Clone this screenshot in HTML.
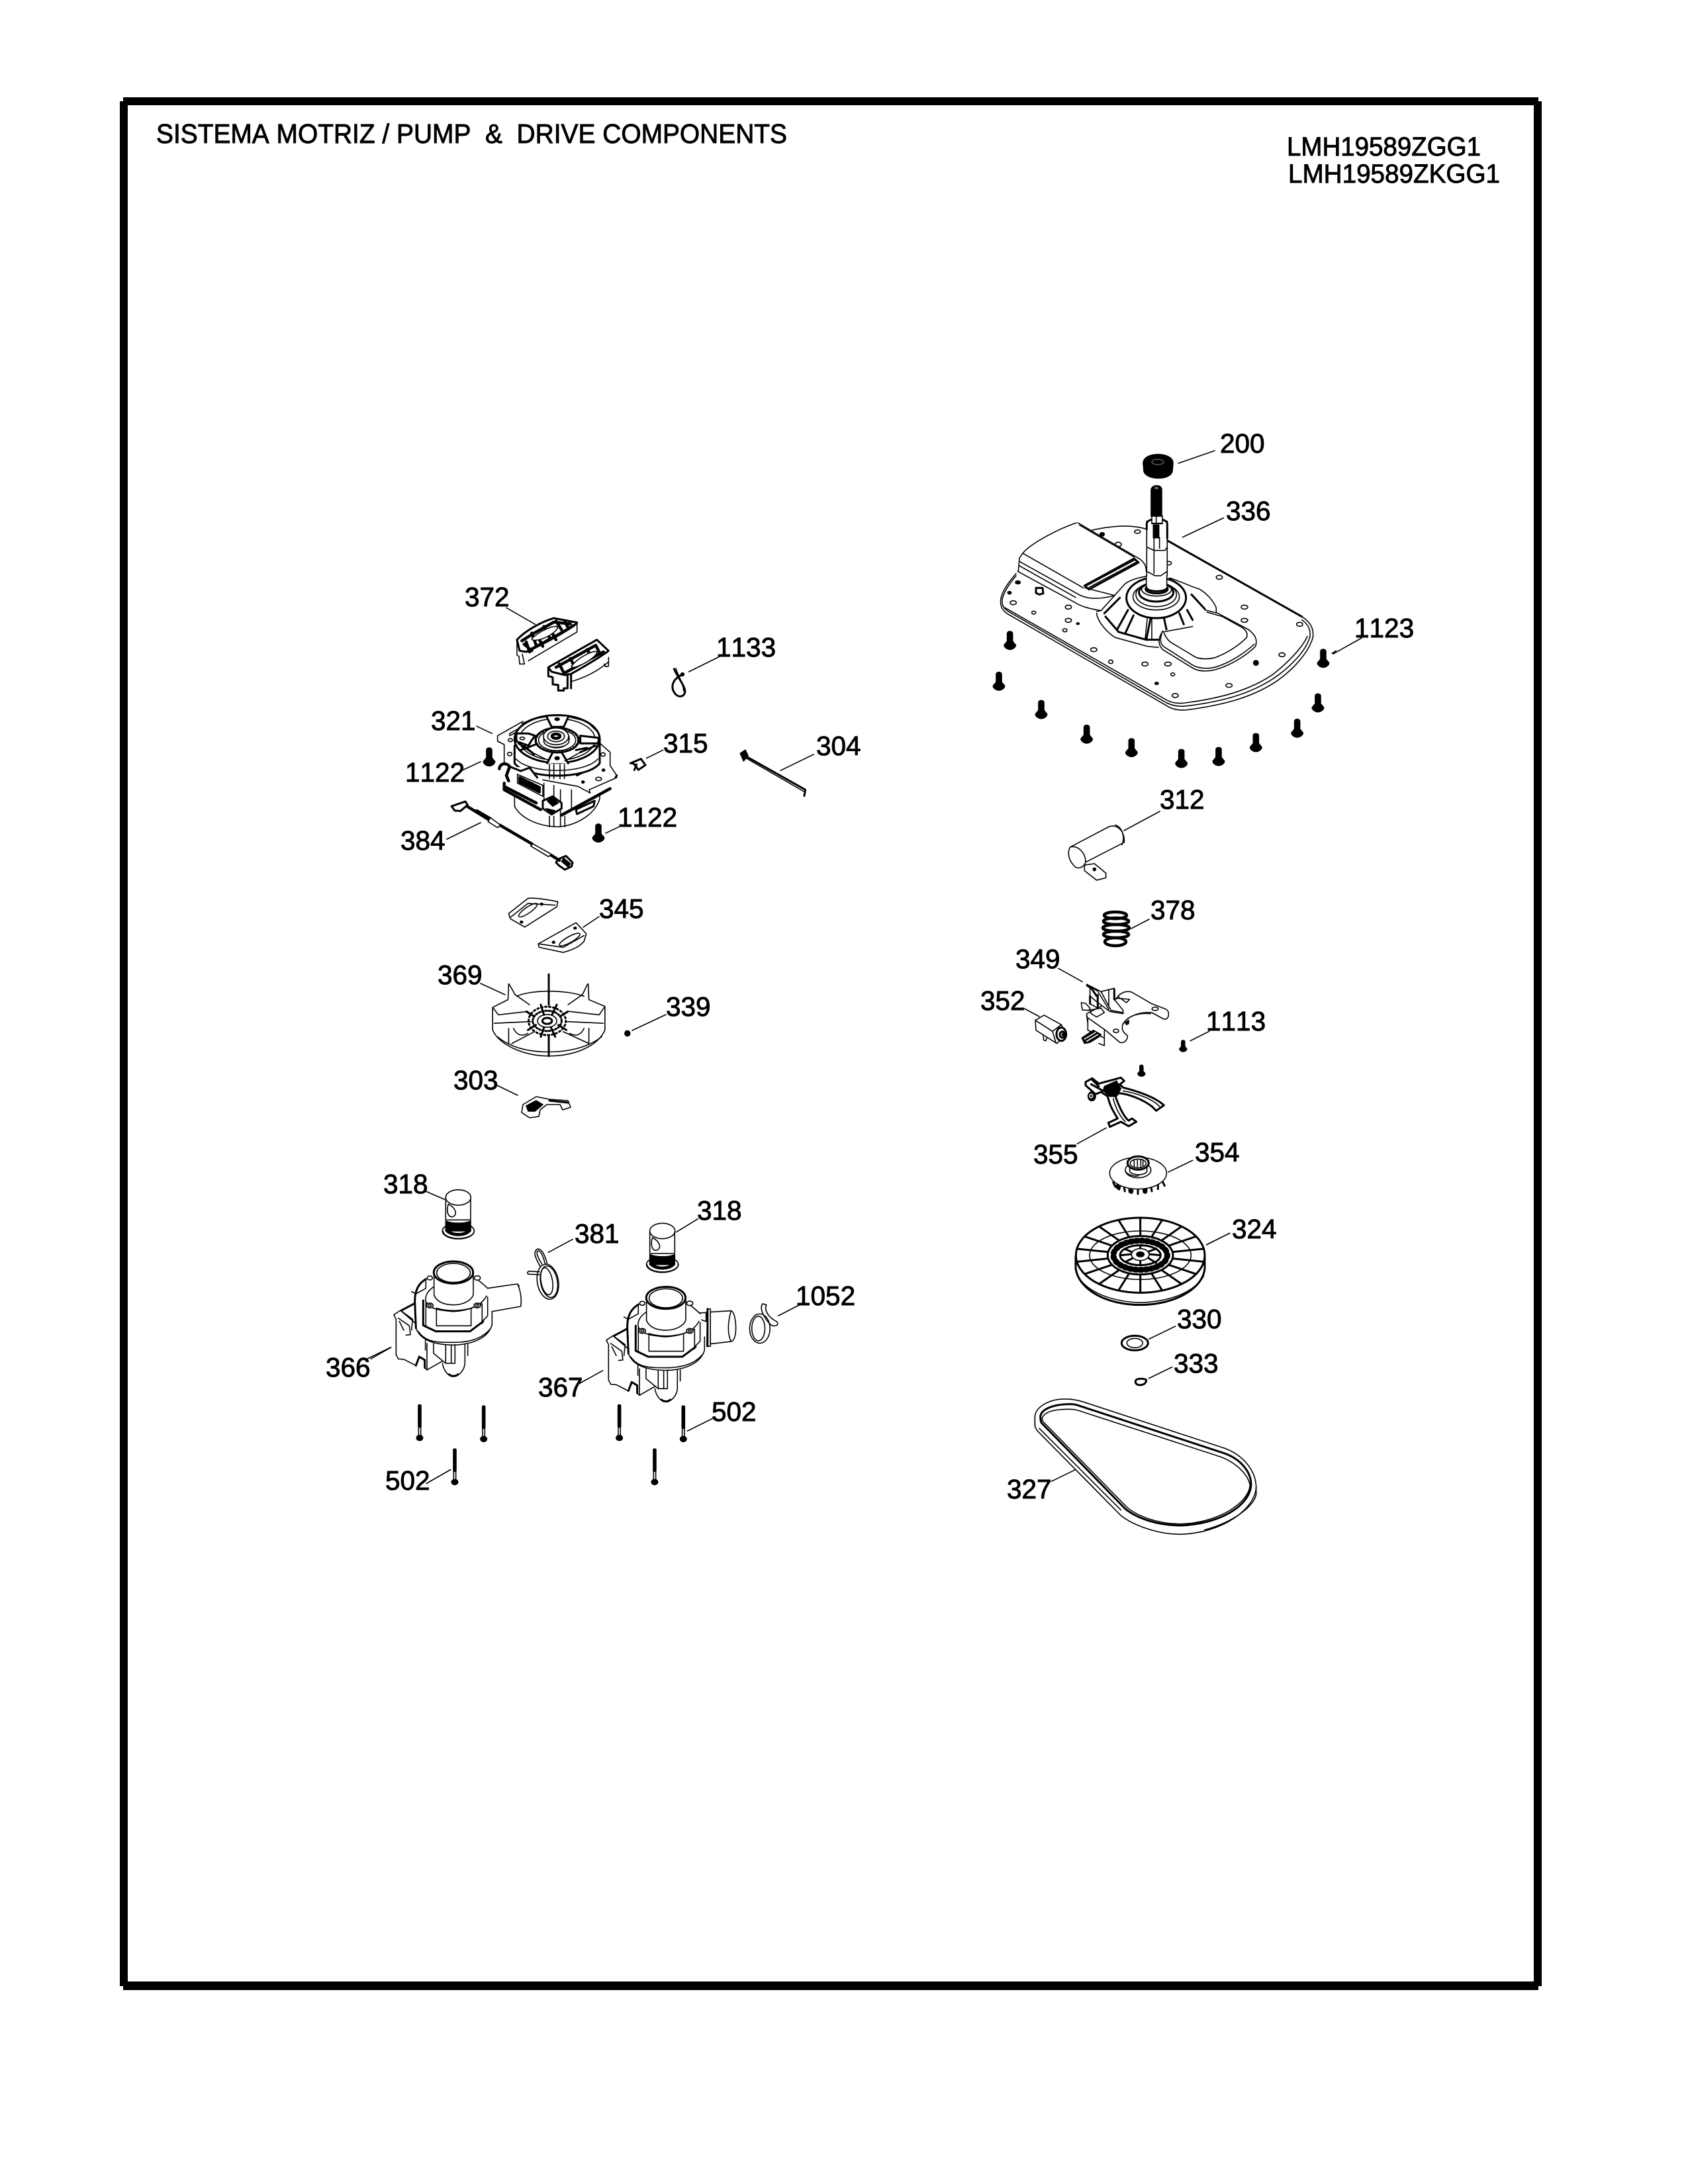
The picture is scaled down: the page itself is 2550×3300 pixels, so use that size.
<!DOCTYPE html>
<html><head><meta charset="utf-8"><title>Pump & Drive Components</title>
<style>
html,body{margin:0;padding:0;background:#fff}
svg{display:block}
path,line,ellipse,rect,polygon,polyline{vector-effect:non-scaling-stroke}
.p{fill:none;stroke:#000;stroke-width:1.6;stroke-linejoin:round;stroke-linecap:round}
.w{fill:#fff}.k{fill:#000}.b{stroke-width:3}.c{stroke-width:4.5}.t{stroke-width:1.2}
.f{fill:#fff;stroke:none}
text{font-family:"Liberation Sans",Arial,sans-serif;fill:#000;stroke:#000;stroke-width:.9;font-kerning:none}
.l{font-size:40.5px}
</style></head><body>
<svg width="2550" height="3300" viewBox="0 0 2550 3300" xmlns="http://www.w3.org/2000/svg">
<rect width="2550" height="3300" fill="#fff"/>
<!-- frame -->
<rect x="186" y="147" width="2138" height="12" fill="#000"/>
<rect x="181" y="153" width="12" height="2848" fill="#000"/>
<rect x="2317" y="153" width="12" height="2848" fill="#000"/>
<rect x="186" y="2994" width="2138" height="13" fill="#000"/>
<!-- titles -->
<text x="236" y="216" font-size="41" textLength="953" lengthAdjust="spacingAndGlyphs" xml:space="preserve">SISTEMA MOTRIZ / PUMP  &amp;  DRIVE COMPONENTS</text>
<text x="1944" y="235" font-size="40" textLength="293" lengthAdjust="spacingAndGlyphs">LMH19589ZGG1</text>
<text x="1946" y="276" font-size="40" textLength="320" lengthAdjust="spacingAndGlyphs">LMH19589ZKGG1</text>
<!-- labels -->
<g class="l">
<text x="702" y="916">372</text><text x="1082" y="992">1133</text><text x="1002" y="1137">315</text>
<text x="933" y="1249">1122</text><text x="905" y="1387">345</text><text x="651" y="1103">321</text>
<text x="612" y="1181">1122</text><text x="605" y="1284">384</text><text x="1233" y="1141">304</text>
<text x="661" y="1487">369</text><text x="1006" y="1535">339</text><text x="685" y="1646">303</text>
<text x="579" y="1803">318</text><text x="868" y="1878">381</text><text x="1053" y="1843">318</text>
<text x="813" y="2110">367</text><text x="582" y="2251">502</text><text x="492" y="2080">366</text>
<text x="1202" y="1972">1052</text><text x="1075" y="2147">502</text>
<text x="1534" y="1463">349</text><text x="1481" y="1526">352</text><text x="1822" y="1557">1113</text>
<text x="1561" y="1758">355</text><text x="1805" y="1755">354</text><text x="1861" y="1871">324</text>
<text x="1778" y="2007">330</text><text x="1773" y="2074">333</text><text x="1521" y="2264">327</text>
<text x="1852" y="786">336</text><text x="1752" y="1222">312</text><text x="1843" y="684">200</text>
<text x="2046" y="963">1123</text><text x="1738" y="1389">378</text>
</g>
<!-- leaders real coords -->
<g class="p">
<path d="M698,1164L726,1151M675,1268L726,1243M905,1385L881,1401M726,1486L763,1503M1006,1533L955,1557M751,1640L782,1655M553,2054L590,2036M1211,1970L1176,1988M1835,681L1780,700M2057,964L2014,988M1752,1226L1698,1255M1736,1389L1709,1403"/>
</g>
<defs>
<g id="bolt"><path class="k" stroke="#000" d="M-12,10C-12,-3 12,-3 12,10L12,45L26,62C26,74 10,82 0,82C-10,82 -26,74 -26,62L-12,45Z"/></g>
<g id="longbolt"><rect x="-6" y="0" width="12" height="102" rx="4" fill="#000"/><rect x="-5" y="102" width="10" height="50" fill="#fff" stroke="#000"/><ellipse cx="0" cy="150" rx="14" ry="12" fill="#000"/></g>
<g id="filter">
<path class="w" d="M340,88L340,190L453,190L453,88Z"/>
<ellipse class="w" cx="397" cy="88" rx="57" ry="35"/>
<path class="k" d="M340,195C370,208 425,208 453,195L453,240L340,240Z"/>
<ellipse cx="397" cy="240" rx="72" ry="36"/>
<path d="M327,240C335,285 460,285 470,240"/>
<path class="k" d="M340,225C360,260 435,260 453,225L453,240C430,268 365,268 340,240Z"/>
<path d="M352,118C342,150 350,178 370,176C392,170 392,140 352,118Z"/>
</g>
<g id="pump">
<path class="f" d="M105,620L135,595L205,650L205,700L248,735L248,770L255,795L320,830L325,850C335,880 355,900 375,900C400,900 425,875 427,840L440,805L440,750L300,720L250,870L215,850L150,822L120,810L115,640Z"/>
<path d="M105,620L135,600L205,660M105,620L115,640L115,800L125,820L150,822L205,850L220,810L245,825L245,860L255,870L325,830M135,600L190,640L185,690M125,635L175,670L180,710L160,712M130,650L150,690"/>
<path class="b" d="M205,850L220,810L245,825L245,860M140,600L205,565"/>
<path d="M248,735L248,780M255,750L255,870M285,750L285,795L340,840M340,755L340,840L382,840L382,755M365,760L365,840M325,840C330,870 350,900 375,900C400,900 425,870 427,840L427,755M440,755L440,805"/>
<path class="b" d="M355,890C365,900 385,900 395,890"/>
<path class="f" d="M250,455C215,480 200,510 200,560L205,680C225,720 280,750 375,752C470,750 530,715 550,665L550,605L530,500C510,480 490,465 470,450L287,430Z"/>
<path class="b" d="M250,458C215,480 200,510 200,560L205,680"/>
<path d="M205,680C225,735 285,755 375,757C470,755 535,720 550,665L550,605M215,695C250,745 300,745 375,745C455,745 510,725 545,680M470,450C490,465 510,480 530,500"/>
<path d="M185,515L205,525M250,460L250,500L205,525"/>
<path d="M290,490C260,510 245,530 250,560C265,590 300,600 375,605C450,600 500,580 525,535"/>
<path class="b" d="M238,555L238,668L295,695L450,695L510,650"/>
<path d="M250,565L250,670M298,590L298,670L455,670L455,590L505,570L505,660M298,590C350,605 400,605 455,590M530,540L530,625L505,650"/>
<ellipse class="w" cx="268" cy="578" rx="15" ry="11"/><ellipse cx="268" cy="578" rx="7" ry="5"/>
<ellipse class="w" cx="483" cy="578" rx="15" ry="11"/><ellipse cx="483" cy="578" rx="7" ry="5"/>
<ellipse class="w" cx="268" cy="453" rx="12" ry="9"/><ellipse class="w" cx="483" cy="453" rx="14" ry="10"/>
<path class="f" d="M287,430L287,530C300,565 340,575 375,575C420,575 455,555 465,530L465,430Z"/>
<path d="M287,430L287,530C300,565 340,575 375,575C420,575 455,555 465,530L465,430"/>
<ellipse class="w b" cx="375" cy="428" rx="89" ry="50"/>
<ellipse cx="375" cy="430" rx="76" ry="43"/>
</g>
</defs>

<!-- ========== Z8: motor area ========== -->
<g class="p" transform="translate(720,860) scale(.3333)">
<path d="M135,175L265,250M1110,392L962,465M0,712L70,745M845,820L770,857M658,1162L585,1197M1527,840L1377,913"/>
<!-- 372 piece 1 -->
<path class="f" d="M183,320C220,280 290,240 350,222L455,242L455,285L235,415L207,420L190,390Z"/>
<path class="b" d="M183,320L195,370L225,375C300,340 390,295 455,245M183,320C220,280 290,240 350,222L455,242"/>
<path class="c" d="M205,325L260,290L350,240L425,248M235,370L300,335L400,280L440,255M215,340L250,370M250,290L270,345M305,260L330,310M360,235L385,275M400,240L415,265M280,310L300,350M340,285L360,320M225,330L240,375"/>
<path class="w" d="M250,315C280,285 340,255 365,260C375,270 340,300 300,315C270,325 250,325 250,315Z"/>
<path d="M183,320L183,390L192,395L195,430L217,430L207,385M235,415L455,285L455,242"/>
<!-- 372 piece 2 -->
<path class="f" d="M325,445L545,320L598,370L598,420C540,470 480,495 428,510L428,540L395,540L395,550L370,550L370,495L345,495L345,490L325,485Z"/>
<path class="b" d="M325,445L545,320L598,370C560,400 490,440 428,475L400,480L340,465ZM325,445L325,485L345,490L345,522L370,525L370,550L395,550L395,540L412,540L412,478M428,475L428,540"/>
<path class="c" d="M360,445L450,395L540,345M400,470L490,420L575,375M375,430L395,470M425,405L445,445M500,365L525,400M540,345L560,385"/>
<path class="w" d="M430,440C460,400 530,365 545,375C550,385 510,420 470,435C450,445 430,450 430,440Z"/>
<path d="M428,510C480,495 540,470 598,420M578,430L585,442L598,440L598,400"/>
<!-- 1133 clip -->
<path class="b" d="M895,452C905,480 945,530 945,555C940,582 915,582 900,565C880,540 885,510 912,490L930,478"/>
<path d="M903,450C912,480 938,520 938,552"/>
<ellipse class="k" cx="933" cy="477" rx="7" ry="7"/>
<!-- 315 -->
<path class="w b" d="M697,880L745,860L765,888L733,910L720,890L708,880Z"/><path class="b" d="M725,885L715,910"/>
<!-- 304 -->
<path class="b" d="M1215,845L1490,1000L1485,1028"/><path d="M1215,853L1482,1007"/>
<path class="k" d="M1195,835L1218,820L1230,845L1210,870Z"/>
<!-- motor lower -->
<path class="f" d="M172,1030L172,1075C200,1130 280,1165 365,1168C450,1165 540,1110 558,1040L558,1000Z"/>
<path d="M172,1030L172,1075C200,1130 280,1165 365,1168C450,1165 540,1110 558,1040L558,1000M330,1120L330,1168M400,1120L400,1168M350,1120L350,1168M380,1120L380,1168"/>
<path class="b" d="M450,1090L535,1050L530,1075L455,1110Z"/>
<path class="f" d="M125,965L125,1000L300,1100L380,1115L605,995L605,965L510,1000L300,950Z"/>
<path class="c" d="M125,970L125,1000L290,1090M385,1115L605,995"/>
<path d="M305,970L305,1040M350,980L350,1030M380,1000L380,1120M430,1000L430,1085"/>
<!-- plate -->
<path class="f" d="M95,755L210,690L300,680L560,790L605,830L605,890L635,935L635,945L510,1000L515,1015L300,955L130,880L125,795L95,780Z"/>
<path d="M95,755L95,780L125,795L125,880M95,755L210,690M560,790L605,830L605,890L635,935L635,945L510,1000L515,1015L460,985L300,955M150,745L210,712L205,725L150,755Z"/>
<path class="b" d="M635,935L630,945"/>
<ellipse cx="153" cy="775" rx="10" ry="7"/><ellipse cx="150" cy="838" rx="10" ry="8"/><ellipse cx="573" cy="840" rx="10" ry="8"/><ellipse cx="553" cy="951" rx="13" ry="8"/><ellipse class="k" cx="575" cy="911" rx="6" ry="5"/><ellipse class="k" cx="482" cy="965" rx="6" ry="5"/>
<path class="b" d="M450,925L540,870L540,890L455,935Z"/>
<!-- motor cylinder -->
<path class="f" d="M172,770L172,880C230,960 500,960 558,880L558,770Z"/>
<path class="b" d="M172,800L172,880C230,955 500,955 558,880L558,770"/>
<path d="M178,860C240,930 490,930 550,860"/>
<path d="M330,885L330,950M350,885L350,950M378,885L378,950M398,885L398,950"/>
<ellipse class="w b" cx="365" cy="770" rx="193" ry="108"/>
<ellipse cx="365" cy="772" rx="172" ry="94"/>
<path class="f" d="M315,668L412,668L395,715L335,715Z"/>
<path class="b" d="M318,670L340,715L395,715L415,670"/>
<ellipse class="k" cx="365" cy="680" rx="10" ry="6"/>
<path class="f" d="M320,880L345,830L385,830L415,880Z"/>
<path class="b" d="M320,880L345,830L385,830L415,880"/>
<ellipse class="k" cx="365" cy="857" rx="10" ry="7"/>
<path class="w b" d="M180,745L235,745L265,755L250,775L235,800L180,780ZM470,755L555,765L550,790L470,790Z"/>
<ellipse cx="207" cy="767" rx="11" ry="6"/>
<path class="b" d="M190,790L250,830M200,820L280,790M470,830L540,800M215,800L260,840M450,820L500,810"/>
<path d="M250,830L310,860M400,870L470,830M205,700L250,680L310,670M420,670L500,690L550,740"/>
<ellipse class="w" cx="365" cy="775" rx="100" ry="58"/>
<ellipse class="b" cx="365" cy="775" rx="96" ry="55" stroke-dasharray="3 3"/>
<ellipse cx="365" cy="775" rx="84" ry="48"/>
<ellipse class="w" cx="362" cy="768" rx="58" ry="42"/>
<path class="f" d="M305,765L305,785C320,815 400,815 418,785L418,765Z"/>
<path d="M305,765L305,785C320,815 400,815 418,785L418,765"/>
<ellipse class="w" cx="360" cy="758" rx="57" ry="38"/>
<ellipse cx="360" cy="758" rx="38" ry="24"/>
<ellipse class="c" cx="360" cy="757" rx="18" ry="10"/>
<!-- harness -->
<path class="f" d="M100,895C110,875 140,880 150,895L240,900L290,950L300,1040L280,1040L125,960Z"/>
<path class="c" d="M103,905C105,880 135,875 150,895L135,935L145,960"/>
<path class="b" d="M150,895L200,915L240,900L275,945"/>
<path d="M185,930L300,980L300,1030L185,970Z"/>
<path class="c" d="M195,945L285,990M195,955L285,1000M195,965L285,1010"/>
<path class="c" d="M125,985L270,1060"/>
<path class="w b" d="M300,1050L345,1030L385,1060L385,1085L340,1112L300,1085Z"/>
<path class="k" d="M320,1050L345,1035L370,1060L345,1075ZM315,1085L355,1095L345,1110Z"/>
<!-- 1122 bolt upper -->
<use href="#bolt" x="57" y="810"/>
<use href="#bolt" x="552" y="1155"/>
<!-- 384 wire right portion -->
<path class="c" d="M0,1095L60,1130M105,1160L250,1245M335,1295L375,1320"/>
<path class="w" d="M60,1130L65,1128L108,1160L95,1172L52,1145ZM255,1245L340,1293L325,1303L245,1255Z"/>
<path class="b" d="M370,1315L405,1300L435,1330L430,1348L400,1362L375,1345L360,1330Z"/>
<path class="k" d="M395,1310L425,1335L415,1350L385,1325Z"/>
</g>

<!-- ========== Z2 region ========== -->
<g class="p" transform="translate(560,850) scale(.4847,.51)">
<!-- wire start -->
<path class="w b" d="M252,722L295,708L302,718L280,736L262,735Z"/>
<path class="c" d="M300,722L365,760"/>
<!-- shims -->
<path class="w" d="M430,1040L490,995C510,992 560,1000 583,1005L580,1020L480,1080L435,1055Z"/>
<path d="M437,1050L490,1010L575,1015"/>
<ellipse cx="490" cy="1030" rx="34" ry="9" transform="rotate(-33 490 1030)"/>
<ellipse class="k" cx="470" cy="1065" rx="4" ry="3"/><ellipse class="k" cx="533" cy="1012" rx="4" ry="3"/>
<path class="w" d="M522,1130L640,1067L672,1100L665,1122C650,1140 620,1150 600,1155L525,1140Z"/>
<path d="M525,1130L600,1140L665,1105"/>
<ellipse cx="620" cy="1117" rx="36" ry="9" transform="rotate(-28 620 1117)"/>
<ellipse class="k" cx="570" cy="1125" rx="4" ry="3"/><ellipse class="k" cx="637" cy="1083" rx="4" ry="3"/>
<!-- fan -->
<path d="M380,1318L380,1385C400,1430 480,1462 555,1462C640,1462 710,1430 730,1385L730,1315"/>
<path d="M455,1285C500,1265 610,1265 665,1285M385,1365L500,1360M610,1360L725,1365M395,1405C440,1440 500,1450 555,1450C620,1450 680,1435 720,1405"/>
<path d="M430,1248L428,1295L380,1318L398,1340L490,1330M432,1250L450,1280L495,1310M678,1248L680,1295L730,1315L712,1340L620,1330M675,1250L660,1280L615,1310"/>
<path d="M430,1380L430,1425M680,1380L680,1425M440,1425L510,1390M600,1390L680,1425M445,1380C455,1400 470,1405 490,1395M665,1380C655,1400 640,1405 620,1395"/>
<path class="b" d="M555,1220L555,1310M555,1400L555,1462"/>
<ellipse class="b" cx="550" cy="1358" rx="58" ry="42" stroke-dasharray="2 4"/>
<ellipse class="b" cx="550" cy="1358" rx="45" ry="30" stroke-dasharray="2 3"/>
<ellipse class="w" cx="550" cy="1358" rx="30" ry="19"/>
<ellipse class="b" cx="550" cy="1358" rx="15" ry="9"/>
<path class="b" d="M485,1330L510,1345M490,1385L515,1370M615,1330L590,1345M610,1385L585,1370M530,1310L540,1340M580,1310L565,1340M530,1405L540,1378M575,1405L562,1378"/>
<ellipse class="k" cx="800" cy="1395" rx="8" ry="8"/>
</g>
<!-- 303 -->
<g class="p">
<path class="w" d="M790,1669L810,1657L830,1661L858,1663L862,1673L850,1677L846,1669L826,1669L816,1677L814,1687L800,1689L788,1681Z"/>
<path class="k" d="M795,1671L810,1663L820,1669L808,1679L798,1679Z"/>
<path class="b" d="M830,1663L858,1666"/>
</g>

<!-- ========== Z9: pumps ========== -->
<g class="p" transform="translate(560,1780) scale(.3333)">
<path d="M245,58L335,97M915,278L805,337M1483,185L1385,245M1052,873L945,932M362,1322L252,1385M1560,1085L1435,1147M92,768L0,820"/>
<use href="#filter"/>
<use href="#filter" x="925" y="152"/>
<!-- left outlet -->
<path class="f" d="M527,500L665,480C680,510 685,550 680,582L550,605L530,560Z"/>
<path d="M527,500L665,480C680,510 685,550 680,582L550,605M665,480L673,490"/>
<use href="#pump"/>
<!-- right outlet -->
<path d="M1435,615L1520,610L1520,650L1490,640L1440,635"/>
<use href="#pump" x="963" y="115"/>
<!-- clip 381 -->
<path d="M768,400C745,360 735,335 755,322C775,318 790,350 800,390"/>
<path d="M776,390C755,355 748,338 758,330C770,328 782,355 790,388"/>
<path d="M765,425L715,422C708,430 710,436 718,436L765,438"/>
<ellipse cx="803" cy="470" rx="48" ry="80" transform="rotate(-10 803 470)"/>
<ellipse cx="808" cy="470" rx="38" ry="72" transform="rotate(-10 808 470)"/>
<ellipse cx="798" cy="468" rx="26" ry="62" transform="rotate(-10 798 468)"/>
<!-- long bolts -->
<use href="#longbolt" x="222" y="1028"/><use href="#longbolt" x="512" y="1033"/>
<use href="#longbolt" x="1127" y="1028"/><use href="#longbolt" x="1417" y="1033"/>
<use href="#longbolt" x="381" y="1228"/><use href="#longbolt" x="1287" y="1228"/>
</g>
<!-- right pump outlet & clip in z3 -->
<g class="p" transform="translate(460,1720) scale(.5485,.357)">
<path class="w" d="M1110,722L1118,722L1118,880L1108,880Z"/>
<path class="w" d="M1118,735L1175,730C1185,735 1188,780 1188,800C1188,830 1185,855 1175,860L1118,870Z"/>
<path d="M1175,730C1165,780 1165,830 1175,860"/>
<path class="b" d="M1110,722L1110,880"/>
<ellipse cx="1254" cy="805" rx="28" ry="62"/>
<ellipse cx="1250" cy="805" rx="18" ry="52"/>
<path d="M1262,700C1250,720 1270,770 1285,790C1295,800 1310,790 1300,775C1280,760 1265,730 1272,705Z"/>
</g>

<!-- ========== Z12: plate ========== -->
<g class="p" transform="translate(1500,700) scale(.3333)">
<path d="M1045,248L860,335M1555,850L1537,862"/>
<!-- plate -->
<path class="f" d="M105,500C70,540 40,580 35,620C32,650 45,670 70,685L780,1095C810,1115 840,1122 880,1118C1050,1095 1180,1060 1290,985C1360,935 1430,860 1450,790C1455,750 1440,720 1400,695L790,350L690,298C620,275 530,285 450,303L110,480Z"/>
<path d="M105,500C70,540 40,580 35,620C32,650 45,670 70,685L780,1095C810,1115 840,1122 880,1118C1050,1095 1180,1060 1290,985C1360,935 1430,860 1450,790C1455,750 1440,720 1400,695"/>
<path d="M105,510C75,545 45,590 42,620C40,645 50,660 75,675L785,1085C815,1100 845,1105 880,1100C1040,1080 1170,1045 1280,970C1350,920 1420,850 1437,785C1440,755 1430,730 1400,710"/>
<path d="M55,655L790,1075C820,1090 850,1090 880,1085C1030,1065 1160,1030 1265,960C1330,910 1400,840 1425,785"/>
<path d="M450,303C530,285 620,275 695,298"/>
<path class="b" d="M790,350L1400,695"/>
<!-- holes -->
<g>
<ellipse cx="655" cy="310" rx="13" ry="8"/><ellipse class="k" cx="495" cy="322" rx="10" ry="8"/><ellipse cx="568" cy="368" rx="14" ry="10"/><ellipse cx="797" cy="453" rx="12" ry="8"/><ellipse cx="1026" cy="517" rx="14" ry="9"/><ellipse cx="1140" cy="652" rx="15" ry="9"/><ellipse cx="1140" cy="712" rx="15" ry="9"/><ellipse cx="1390" cy="730" rx="14" ry="9"/><ellipse cx="1310" cy="868" rx="14" ry="9"/><ellipse class="k" cx="1192" cy="905" rx="11" ry="11"/><ellipse cx="1070" cy="1007" rx="14" ry="9"/><ellipse cx="826" cy="1053" rx="14" ry="9"/><ellipse cx="793" cy="910" rx="15" ry="9"/><ellipse cx="689" cy="910" rx="14" ry="9"/><ellipse cx="815" cy="957" rx="9" ry="7"/><ellipse class="k" cx="742" cy="998" rx="8" ry="5"/><ellipse cx="534" cy="900" rx="10" ry="8"/><ellipse cx="457" cy="845" rx="14" ry="9"/><ellipse cx="326" cy="757" rx="10" ry="7"/><ellipse class="k" cx="385" cy="727" rx="6" ry="4"/><ellipse cx="342" cy="712" rx="14" ry="9"/><ellipse cx="342" cy="652" rx="14" ry="9"/><ellipse cx="185" cy="677" rx="9" ry="7"/><ellipse cx="92" cy="632" rx="14" ry="9"/><ellipse class="k" cx="75" cy="587" rx="8" ry="6"/><ellipse class="k" cx="113" cy="540" rx="11" ry="7"/>
<path class="b" d="M195,565L225,565L228,590L210,595L195,588Z"/>
</g>
<!-- left raised block -->
<path class="f" d="M135,408C170,365 290,300 378,270L385,272L650,425C680,440 695,460 695,490L580,620L490,668C440,660 400,650 370,630L112,490L120,430Z"/>
<path d="M135,408C170,365 290,300 378,270M385,270L650,425C680,440 695,460 695,490M392,280L640,425"/>
<path d="M135,408L410,565M135,408L120,430L115,490M120,445L380,590C420,615 470,620 550,600M112,490L370,630C400,650 440,660 490,668L580,610"/>
<path d="M418,565L555,600M120,465L375,608"/>
<!-- slot -->
<path class="b" d="M415,555L640,432L660,450L435,572Z"/>
<path d="M425,555L640,440M435,563L650,448"/>
<!-- cone skirt -->
<path class="f" d="M470,680C475,720 520,770 555,790L700,830L750,835L980,680L900,570L800,520L700,512L600,545L490,668Z"/>
<path d="M470,680C475,720 520,770 555,790L700,830L750,835M470,672L490,668L600,545C640,520 680,515 700,512M800,520C850,535 900,560 935,570C970,590 1000,625 1012,655L1012,680"/>
<path class="b" d="M510,695L570,765L695,800L780,800L905,740L960,680M505,680L575,610M900,595L960,660"/>
<path class="b" d="M612,665L565,750M637,690L600,770M715,700L695,800M775,700L790,770M845,680L865,730M880,665L905,710"/>
<path d="M700,700L690,795M720,700L720,800"/>
<!-- hub rings -->
<ellipse class="w b" cx="740" cy="610" rx="135" ry="92"/>
<ellipse class="w" cx="740" cy="605" rx="105" ry="60"/>
<ellipse class="w" cx="740" cy="595" rx="92" ry="55"/>
<ellipse class="w b" cx="740" cy="585" rx="78" ry="42"/>
<ellipse cx="742" cy="572" rx="68" ry="30"/>
<ellipse class="w b" cx="742" cy="570" rx="50" ry="20"/>
<!-- right pad -->
<path class="f" d="M770,760C750,790 745,820 770,845L900,925C930,945 970,945 1010,935C1080,915 1150,870 1190,830C1200,800 1190,780 1160,755L1020,680L960,665C930,710 880,740 770,760Z"/>
<path d="M770,760C750,790 745,820 770,845L900,925C930,945 970,945 1010,935C1080,915 1150,870 1190,830C1200,800 1190,780 1160,755L1020,680L960,665"/>
<path d="M765,775C755,800 760,825 780,835L905,915C935,932 970,932 1005,925C1075,905 1140,860 1185,820"/>
<path d="M775,770C790,800 800,810 820,820L920,880C950,890 980,888 1010,880C1060,860 1110,830 1150,790C1155,770 1150,760 1130,745L1040,695L970,675"/>
<path d="M770,765L905,740"/>
<!-- shaft -->
<path class="f" d="M697,262L697,555C705,585 780,585 790,555L790,262C780,240 705,240 697,262Z"/>
<path d="M697,262L697,510M790,262L790,510M695,510L695,555M788,510L788,555"/>
<path class="b" d="M697,275C697,245 790,245 790,275L790,340M697,275L697,300"/>
<path d="M697,380L730,395L780,395L790,380M697,490L735,510L760,510L790,490M730,335L730,500M755,335L755,385M730,335L755,335"/>
<rect x="727" y="280" width="25" height="58" fill="#000"/>
<rect class="w" x="720" y="238" width="48" height="36"/>
<path d="M740,238L740,272M720,272L768,272"/>
<path class="k" d="M717,120C720,95 765,95 765,120L765,240L717,240Z"/>
<ellipse cx="741" cy="112" rx="10" ry="6" fill="#666" stroke="none"/>
<path class="b" d="M695,565C705,585 780,585 790,565"/>
<!-- bolts -->
<use href="#bolt" x="77" y="762"/><use href="#bolt" x="27" y="947"/><use href="#bolt" x="219" y="1075"/><use href="#bolt" x="425" y="1187"/><use href="#bolt" x="628" y="1248"/><use href="#bolt" x="854" y="1297"/><use href="#bolt" x="1023" y="1288"/><use href="#bolt" x="1192" y="1225"/><use href="#bolt" x="1379" y="1160"/><use href="#bolt" x="1473" y="1045"/><use href="#bolt" x="1497" y="843"/>
</g>
<!-- nut 200 -->
<g class="p">
<path class="k" d="M1727,700C1727,682 1772,682 1772,700L1771,712C1768,726 1732,726 1728,712Z"/>
<ellipse cx="1749" cy="698" rx="9" ry="4" stroke="#888" stroke-width="1"/>
</g>

<!-- ========== Z4: capacitor, spring ========== -->
<g class="p" transform="translate(1440,1180) scale(.3333,.714)">
<path class="w" d="M595,178L640,175L692,195L692,205L650,210L595,190Z"/>
<ellipse cx="640" cy="187" rx="6" ry="3" class="k"/>
<path class="w" d="M530,140L705,97C740,90 778,105 775,130L600,172C590,185 560,188 545,178C520,165 518,150 530,140Z"/>
<path d="M530,140C560,135 600,150 600,172M735,93C770,100 778,120 765,135"/>
</g>
<g class="p c">
<ellipse cx="1685" cy="1383" rx="17" ry="5"/><ellipse cx="1686" cy="1392" rx="19" ry="5"/><ellipse cx="1686" cy="1402" rx="20" ry="5"/><ellipse cx="1686" cy="1412" rx="19" ry="5"/><ellipse cx="1685" cy="1423" rx="16" ry="6"/>
</g>

<!-- ========== Z10: switch, fork, gear ========== -->
<g class="p" transform="translate(1500,1400) scale(.3333)">
<path d="M297,190L405,250M143,372L210,408M980,475L895,518M513,913L382,985M905,1060L795,1113M1073,1390L968,1443"/>
<!-- solenoid -->
<path class="w" d="M192,425L232,402L310,445L330,490L290,530L195,470Z"/>
<path d="M192,425L270,475L285,525M270,475L310,445"/>
<ellipse class="w b" cx="310" cy="488" rx="22" ry="30"/>
<ellipse class="b" cx="315" cy="490" rx="12" ry="14"/><ellipse class="k" cx="318" cy="490" rx="5" ry="6"/>
<path d="M228,495L230,515L240,518L245,503"/>
<!-- switch plate -->
<path class="w" d="M425,395L560,325C580,295 610,290 630,298L720,350L785,375C800,385 800,410 785,420L775,420L720,390C660,385 610,410 590,440C580,465 590,480 610,495C610,520 590,530 575,525L510,470L425,410Z"/>
<path d="M592,440C610,405 660,390 715,395M545,335L565,325L620,330L605,345L570,320"/>
<ellipse cx="735" cy="373" rx="14" ry="8"/><ellipse cx="558" cy="473" rx="12" ry="8"/>
<path class="k" d="M600,435L615,425L615,440L605,445Z"/>
<!-- bracket -->
<path class="w" d="M425,262L490,295L550,280L550,330L590,380L590,395L530,385L475,345L440,315L440,280Z"/>
<path d="M470,285L525,375M525,290L525,360M440,315L440,350L475,370L475,310M490,295L535,380L590,390M425,262L470,290"/>
<path class="b" d="M427,268L445,278L470,315M440,315L440,350M475,310L475,370M550,285L550,330"/>
<path class="w" d="M400,345L420,348L440,370L435,380L405,378Z"/>
<path d="M440,378L490,370L505,390L470,410L445,395Z"/>
<path d="M430,420L430,470M505,470L505,540L480,530M430,470L505,505M425,400L430,440"/>
<path class="k" d="M403,505L455,470L490,490L480,500L440,525L415,530Z"/>
<path stroke="#fff" d="M415,510L465,480M425,520L475,490"/>
<!-- small screws -->
<use href="#bolt" x="862" y="516" transform="translate(862,516) scale(.62) translate(-862,-516)"/>
<use href="#bolt" x="673" y="628" transform="translate(673,628) scale(.62) translate(-673,-628)"/>
<!-- fork -->
<path class="w b" d="M420,705L450,688L480,712L580,685L595,700L575,715L590,730C650,745 730,770 775,810L740,835L720,815C680,785 620,760 570,755L555,770C570,810 590,860 615,880L630,870L650,885L615,905L580,885L530,908L523,890L565,870C540,830 530,810 520,770L490,750L465,760L420,720Z"/>
<path d="M590,745C650,755 720,780 755,815M545,780C555,820 575,860 600,885"/>
<path class="k" d="M505,725L560,700L580,735L560,770L530,770L500,745Z"/>
<path class="b" d="M445,715L500,745M450,695L480,725"/>
<ellipse class="k" cx="448" cy="770" rx="17" ry="20"/>
<ellipse cx="445" cy="768" rx="7" ry="8" stroke="#fff"/>
<!-- gear -->
<path class="b" d="M545,1160L555,1180M565,1172L572,1192M595,1185L598,1200M625,1192L627,1208M657,1194L657,1212M690,1192L690,1208M718,1186L720,1200M748,1172L748,1190M770,1158L778,1175"/>
<path class="k" d="M615,1192L635,1195L632,1208L618,1206ZM680,1192L698,1190L697,1206L682,1206ZM558,1172L578,1180L574,1192L562,1188Z"/>
<ellipse class="w" cx="658" cy="1118" rx="129" ry="72"/>
<ellipse class="w" cx="658" cy="1104" rx="58" ry="35"/>
<path class="f" d="M620,1075L620,1110C630,1130 690,1130 698,1110L698,1075Z"/>
<path d="M620,1075L620,1110C630,1130 690,1130 698,1110L698,1075"/>
<path d="M600,1110C610,1125 640,1135 660,1130"/>
<ellipse class="w b" cx="658" cy="1072" rx="48" ry="30"/>
<ellipse cx="658" cy="1074" rx="36" ry="20"/>
<path d="M640,1060L640,1088M655,1056L655,1090M670,1056L670,1090M680,1062L680,1085"/>
</g>

<!-- ========== Z11: pulley, belt ========== -->
<g class="p" transform="translate(1530,1800) scale(.3333)">
<path d="M983,190L878,242M737,612L617,670M722,797L617,848M175,1315L282,1263"/>
<!-- pulley -->
<path class="f" d="M285,295L285,350C300,450 430,515 578,515C720,515 860,450 870,350L870,295Z"/>
<path class="b" d="M285,295L285,350C300,450 430,515 578,515C720,515 860,450 870,350L870,295"/>
<path d="M295,385C340,460 450,500 578,505C710,500 820,460 865,385"/>
<ellipse class="w b" cx="578" cy="290" rx="292" ry="170"/>
<ellipse cx="578" cy="290" rx="230" ry="110"/>
<path class="b" d="M861.7,319L725.7,305M294.3,319L430.3,305M861.7,261L725.7,275M294.3,261L430.3,275M827,374L708,334M329,374L448,334M827,206L708,246M329,206L448,246M763,419L674,357M393,419L482,357M763,161L674,223M393,161L482,223M676,448L629,373M480,448L527,373M676,132L629,207M480,132L527,207M578,458L578,378M578,122L578,202"/>
<ellipse class="w" cx="578" cy="290" rx="148" ry="87"/>
<ellipse cx="578" cy="290" rx="122" ry="66" stroke-width="9" stroke-dasharray="2.5 5.5"/>
<ellipse class="b" cx="578" cy="290" rx="148" ry="87"/>
<ellipse class="w b" cx="578" cy="290" rx="92" ry="45"/>
<path class="b" d="M490,290L540,285M616,285L668,290M510,320L550,300M610,300L650,325M510,262L545,278M650,260L612,275M578,335L578,315M578,245L578,265"/>
<ellipse class="w" cx="578" cy="287" rx="40" ry="27"/>
<ellipse class="k" cx="578" cy="286" rx="17" ry="11"/>
<!-- washers -->
<ellipse class="b" cx="553" cy="688" rx="60" ry="33"/><ellipse cx="553" cy="688" rx="36" ry="21"/>
<path class="b" d="M558,856C565,848 595,848 605,855C605,875 585,880 570,878C558,875 552,865 558,856Z"/>
<!-- belt -->
<path d="M100,1020C105,975 170,940 240,942C270,942 295,947 320,955L960,1165C1040,1195 1100,1260 1103,1340C1100,1440 950,1550 760,1555C650,1555 540,1510 490,1470L120,1095C105,1080 100,1070 100,1055Z"/>
<path class="b" d="M125,1020C130,985 190,965 260,965C280,965 290,968 300,972L950,1185C1030,1210 1080,1270 1080,1330C1075,1430 930,1510 760,1515C650,1515 560,1480 510,1440L130,1050C125,1040 125,1030 125,1020Z"/>
<path d="M133,1030C140,1000 190,988 250,988C270,988 285,990 295,993L945,1205C1020,1235 1070,1290 1075,1335C1065,1420 920,1505 760,1508C660,1508 570,1475 520,1435L138,1045C133,1040 133,1035 133,1030Z"/>
<path d="M100,1020L100,1065M1103,1340L1103,1375C1090,1430 1000,1500 870,1535M120,1075L490,1445"/>
</g>
</svg>
</body></html>
